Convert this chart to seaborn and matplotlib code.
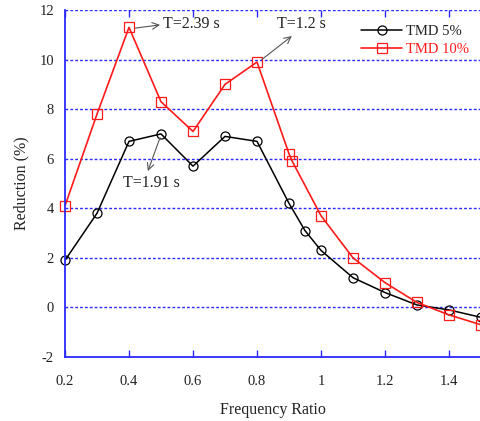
import matplotlib
matplotlib.use("Agg")
import matplotlib.pyplot as plt
import seaborn as sns
import pandas as pd

# Frequency ratio sweep and peak-response reduction for two TMD mass ratios
x_tmd5 = [0.2, 0.3, 0.4, 0.5, 0.6, 0.7, 0.8, 0.9, 0.95, 1.0, 1.1, 1.2, 1.3, 1.4, 1.5]
y_tmd5 = [1.9, 3.8, 6.7, 7.0, 5.7, 6.9, 6.7, 4.2, 3.1, 2.3, 1.2, 0.6, 0.1, -0.1, -0.4]

x_tmd10 = [0.2, 0.3, 0.4, 0.5, 0.6, 0.7, 0.8, 0.9, 0.91, 1.0, 1.1, 1.2, 1.3, 1.4, 1.5]
y_tmd10 = [4.1, 7.8, 11.3, 8.3, 7.1, 9.0, 9.9, 6.2, 5.9, 3.7, 2.0, 1.0, 0.2, -0.3, -0.7]

series_labels = ["TMD 5%", "TMD 10%"]
x_ticks = [0.2, 0.4, 0.6, 0.8, 1.0, 1.2, 1.4]
x_tick_labels = ["0.2", "0.4", "0.6", "0.8", "1", "1.2", "1.4"]
y_ticks = [-2, 0, 2, 4, 6, 8, 10, 12]

sns.set_theme(style="white")
plt.rcParams["font.family"] = ["Liberation Serif", "DejaVu Serif"]
plt.rcParams["axes.unicode_minus"] = False

df5 = pd.DataFrame({"x": x_tmd5, "y": y_tmd5})
df10 = pd.DataFrame({"x": x_tmd10, "y": y_tmd10})

fig = plt.figure(figsize=(4.8, 4.21), dpi=100)
ax = fig.add_axes([65 / 480, 64 / 421, 416 / 480, 347 / 421])

blue = "#2a2aff"
for yv in y_ticks[1:]:
    ax.axhline(yv, color=blue, lw=1.0, ls=(0, (2, 1.5)), zorder=0)

sns.lineplot(data=df5, x="x", y="y", ax=ax, color="black", lw=1.1,
             marker="o", markersize=6.5, markerfacecolor="none",
             markeredgecolor="black", markeredgewidth=0.9,
             label=series_labels[0], sort=False, clip_on=False)
sns.lineplot(data=df10, x="x", y="y", ax=ax, color="#ff1a1a", lw=1.2,
             marker="s", markersize=7, markerfacecolor="none",
             markeredgecolor="#ff1a1a", markeredgewidth=0.9,
             label=series_labels[1], sort=False, clip_on=False)

ax.set_xlim(0.2, 1.5)
ax.set_ylim(-2, 12)
ax.set_xticks(x_ticks)
ax.set_xticklabels(x_tick_labels)
ax.set_yticks(y_ticks)

for s in ["top", "right"]:
    ax.spines[s].set_visible(False)
for s in ["left", "bottom"]:
    ax.spines[s].set_color(blue)
    ax.spines[s].set_linewidth(1.3)

ax.tick_params(axis="x", direction="in", length=5, color=blue, width=1.0,
               top=True, bottom=True, labelsize=10.5, labelcolor="#222222", pad=13)
ax.tick_params(axis="y", length=0, labelsize=10.5, labelcolor="#222222", pad=8)

ax.set_xlabel("Frequency Ratio", fontsize=11.5, color="#222222", labelpad=10)
ax.set_ylabel("Reduction (%)", fontsize=11.5, color="#222222", labelpad=7)

arrow = dict(arrowstyle="->", color="#555555", lw=0.8, shrinkA=0, shrinkB=0)
txt = dict(fontsize=11.5, color="#222222", va="center")

# T=2.39 s: arrow from the 10% peak toward the label
ax.annotate("", xy=(0.497, 11.4), xytext=(0.42, 11.27), arrowprops=arrow)
ax.text(0.506, 11.42, "T=2.39 s", ha="left", **txt)

# T=1.2 s: arrow from the second 10% peak up toward the label
ax.annotate("", xy=(0.909, 10.95), xytext=(0.815, 10.0), arrowprops=arrow)
ax.text(0.94, 11.42, "T=1.2 s", ha="center", **txt)

# T=1.91 s: arrow from the 5% peak down toward the label
ax.annotate("", xy=(0.459, 5.5), xytext=(0.497, 6.85), arrowprops=arrow)
ax.text(0.47, 5.04, "T=1.91 s", ha="center", **txt)

leg = ax.legend(loc="upper right", bbox_to_anchor=(1.0, 0.99), frameon=False,
                fontsize=10.5, handlelength=2.8, labelspacing=0.3,
                handletextpad=0.3, borderaxespad=0.4)
for t, c in zip(leg.get_texts(), ["#222222", "#ff1a1a"]):
    t.set_color(c)

fig.savefig("out.png", dpi=100)
